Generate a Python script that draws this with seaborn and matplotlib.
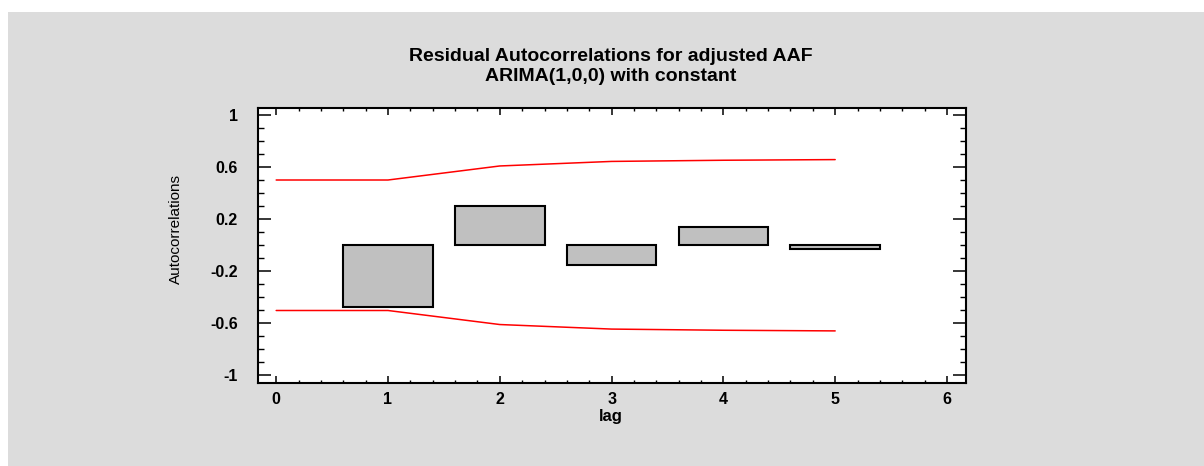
import numpy as np
import pandas as pd
import matplotlib
matplotlib.use("Agg")
import matplotlib.pyplot as plt
from matplotlib.patches import Rectangle
from matplotlib.ticker import MultipleLocator
import seaborn as sns

# ---- data ----
lags = [1, 2, 3, 4, 5]
autocorr = [-0.477, 0.303, -0.155, 0.143, -0.026]
limit_lags = [0, 1, 2, 3, 4, 5]
upper_limit = [0.502, 0.502, 0.610, 0.645, 0.654, 0.659]
lower_limit = [-0.502, -0.502, -0.610, -0.645, -0.654, -0.659]
x_ticks = [0, 1, 2, 3, 4, 5, 6]
y_ticks = [-1, -0.6, -0.2, 0.2, 0.6, 1]
y_ticklabels = ["-1", "-0.6", "-0.2", "0.2", "0.6", "1"]
title_lines = ["Residual Autocorrelations for adjusted AAF", "ARIMA(1,0,0) with constant"]

sns.set_theme(style="white")
plt.rcParams["font.family"] = ["Liberation Sans", "DejaVu Sans"]

W, H = 1204, 466
fig = plt.figure(figsize=(W / 100, H / 100), dpi=100, facecolor="white")
fig.patches.append(Rectangle((8 / W, 0), 1, 1 - 12 / H, transform=fig.transFigure,
                             facecolor="#DCDCDC", edgecolor="none", zorder=-10))

ax = fig.add_axes([257.5 / W, 1 - 382.5 / H, (966 - 257.5) / W, (382.5 - 108) / H])
ax.set_facecolor("white")

bars = pd.DataFrame({"lag": lags, "r": autocorr})
sns.barplot(data=bars, x="lag", y="r", native_scale=True, width=0.8,
            color="#C0C0C0", saturation=1, edgecolor="black", linewidth=1.5, ax=ax,
            zorder=2)

lim = pd.DataFrame({"lag": limit_lags, "up": upper_limit, "lo": lower_limit})
sns.lineplot(data=lim, x="lag", y="up", color="#FF0000", linewidth=1.1, ax=ax, zorder=3)
sns.lineplot(data=lim, x="lag", y="lo", color="#FF0000", linewidth=1.1, ax=ax, zorder=3)

ax.set_xlim(-0.167, 6.17)
ax.set_ylim(-1.056, 1.056)

ax.set_xticks(x_ticks)
ax.set_xticklabels([str(t) for t in x_ticks])
ax.xaxis.set_minor_locator(MultipleLocator(0.2))
ax.set_yticks(y_ticks)
ax.set_yticklabels(y_ticklabels)
ax.yaxis.set_minor_locator(MultipleLocator(0.1))

for s in ax.spines.values():
    s.set_visible(True)
    s.set_linewidth(1.5)
    s.set_color("black")

ax.tick_params(axis="x", which="major", direction="in", length=5, width=1.1,
               top=True, bottom=True, pad=7, labelsize=11.5, color="black")
ax.tick_params(axis="x", which="minor", direction="in", length=2.5, width=1.0,
               top=True, bottom=True, color="black")
ax.tick_params(axis="y", which="major", direction="in", length=9.5, width=1.1,
               left=True, right=True, pad=14, labelsize=11.5, color="black")
ax.tick_params(axis="y", which="minor", direction="in", length=4.5, width=1.0,
               left=True, right=True, color="black")
for lab in ax.get_xticklabels() + ax.get_yticklabels():
    lab.set_fontweight("bold")
    lab.set_color("black")

ax.set_xlabel("")
ax.set_ylabel("")
fig.text(611 / W, 1 - 417 / H, "lag", ha="center", va="center",
         fontsize=12, fontweight="bold", color="black")
fig.text(176 / W, 1 - 229 / H, "Autocorrelations", rotation=90, ha="center", va="center",
         fontsize=11, fontweight="medium", color="black")
fig.text(611 / W, 1 - 56.5 / H, title_lines[0], ha="center", va="center",
         fontsize=14, fontweight="bold", color="black")
fig.text(611 / W, 1 - 76.5 / H, title_lines[1], ha="center", va="center",
         fontsize=14, fontweight="bold", color="black")

fig.savefig("out.png", dpi=100, facecolor="white")
